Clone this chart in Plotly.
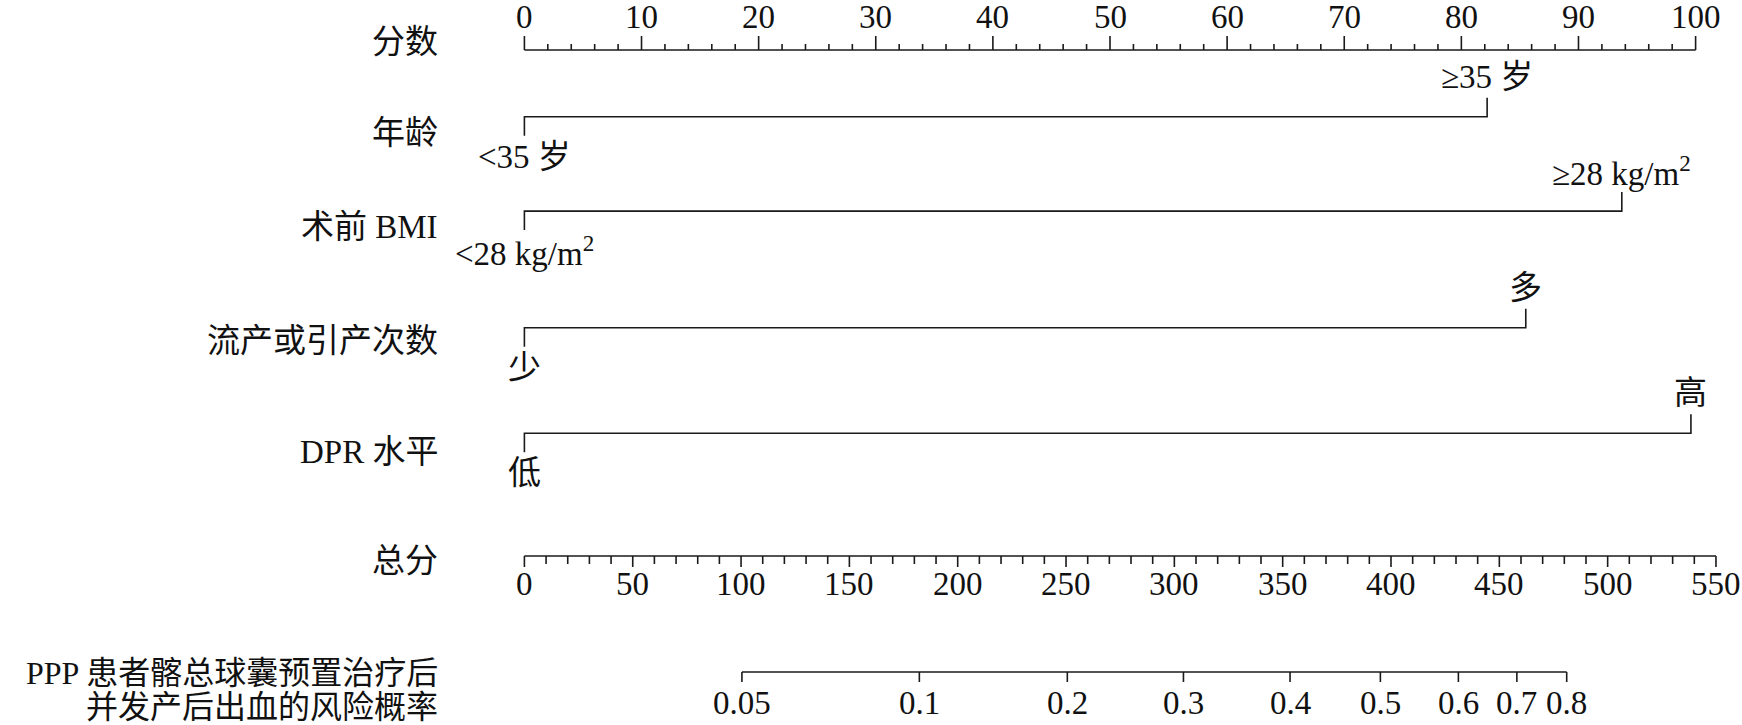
import plotly.graph_objects as go

# ---------------- data ----------------
points_ticks = list(range(0, 101, 10))
points_minor = list(range(0, 101, 2))
total_ticks = list(range(0, 551, 50))
total_minor = list(range(0, 551, 10))
risk_labels = ["0.05", "0.1", "0.2", "0.3", "0.4", "0.5", "0.6", "0.7", "0.8"]
risk_total_points = [100.4, 182.3, 250.6, 304.2, 353.4, 395.1, 431.1, 458.1, 481.1]

variables = ["年龄", "术前 BMI", "流产或引产次数", "DPR 水平"]
low_labels = ["<35 岁", "<28 kg/m<sup>2</sup>", "少", "低"]
high_labels = ["≥35 岁", "≥28 kg/m<sup>2</sup>", "多", "高"]
low_points = [0, 0, 0, 0]
high_points = [82.2, 93.7, 85.5, 99.6]

# ---------------- layout (pixel rows) ----------------
W, H = 1742, 725
FONT = "Liberation Serif, Noto Sans CJK SC, serif"
LC = "#1a1a1a"
LW = 1.6

row_line_y = [116.7, 211.1, 327.8, 433.3]
row_label_y = [133.3, 226.7, 341.1, 452.2]
tick_len = 19

pts_axis_y = 50
tot_axis_y = 556
risk_axis_y = 672

fig = go.Figure()

def seg_trace(xs, ys, xaxis="x"):
    fig.add_trace(go.Scatter(x=xs, y=ys, mode="lines", xaxis=xaxis, yaxis="y",
                             line=dict(color=LC, width=LW), hoverinfo="skip",
                             showlegend=False))

# Points axis
xs, ys = [0, 100, None], [pts_axis_y, pts_axis_y, None]
for v in points_minor:
    L = 14 if v % 10 == 0 else 6
    xs += [v, v, None]
    ys += [pts_axis_y, pts_axis_y - L, None]
seg_trace(xs, ys)

# Variable lines
for i in range(len(variables)):
    yl = row_line_y[i]
    seg_trace([low_points[i], low_points[i], high_points[i], high_points[i]],
              [yl + tick_len, yl, yl, yl - tick_len])

# Total points axis
xs, ys = [0, 550, None], [tot_axis_y, tot_axis_y, None]
for v in total_minor:
    L = 11 if v % 50 == 0 else 8
    xs += [v, v, None]
    ys += [tot_axis_y, tot_axis_y + L, None]
seg_trace(xs, ys, "x2")

# Risk axis
xs, ys = [risk_total_points[0], risk_total_points[-1], None], [risk_axis_y, risk_axis_y, None]
for v in risk_total_points:
    xs += [v, v, None]
    ys += [risk_axis_y, risk_axis_y + 10, None]
seg_trace(xs, ys, "x2")

ann = []
def txt(x, y, s, xref="x", xanchor="center", size=33):
    ann.append(dict(x=x, y=y, xref=xref, yref="y", text=s, showarrow=False,
                    xanchor=xanchor, yanchor="middle",
                    font=dict(family=FONT, size=size, color="#111")))

# tick labels
for v in points_ticks:
    txt(v, 17, str(v))
for v in total_ticks:
    txt(v, 584, str(v), xref="x2")
for v, s in zip(risk_total_points, risk_labels):
    txt(v, 703, s, xref="x2")

# category labels
for i in range(len(variables)):
    yl = row_line_y[i]
    txt(high_points[i], yl - 40, high_labels[i])
    txt(low_points[i], yl + 40, low_labels[i])

# row labels
LX = 440 / W
txt(LX, 42, "分数", xref="paper", xanchor="right")
for name, y in zip(variables, row_label_y):
    txt(LX, y, name, xref="paper", xanchor="right")
txt(LX, 561, "总分", xref="paper", xanchor="right")
txt(LX, 673, "PPP 患者髂总球囊预置治疗后", xref="paper", xanchor="right", size=32)
txt(LX, 707, "并发产后出血的风险概率", xref="paper", xanchor="right", size=32)

pp = 11.712  # px per point
tp = 2.1665  # px per total point
x0 = 524.4

fig.update_layout(
    width=W, height=H,
    margin=dict(l=0, r=0, t=0, b=0),
    paper_bgcolor="white", plot_bgcolor="white",
    xaxis=dict(range=[-x0 / pp, (W - x0) / pp], visible=False, fixedrange=True),
    xaxis2=dict(range=[-x0 / tp, (W - x0) / tp], visible=False, overlaying="x",
                fixedrange=True),
    yaxis=dict(range=[H, 0], visible=False, fixedrange=True),
    annotations=ann,
    showlegend=False,
)

fig.write_html("out.html",
               config={"displayModeBar": False, "staticPlot": True},
               post_script="document.body.style.margin='0';document.body.style.overflow='hidden';")
